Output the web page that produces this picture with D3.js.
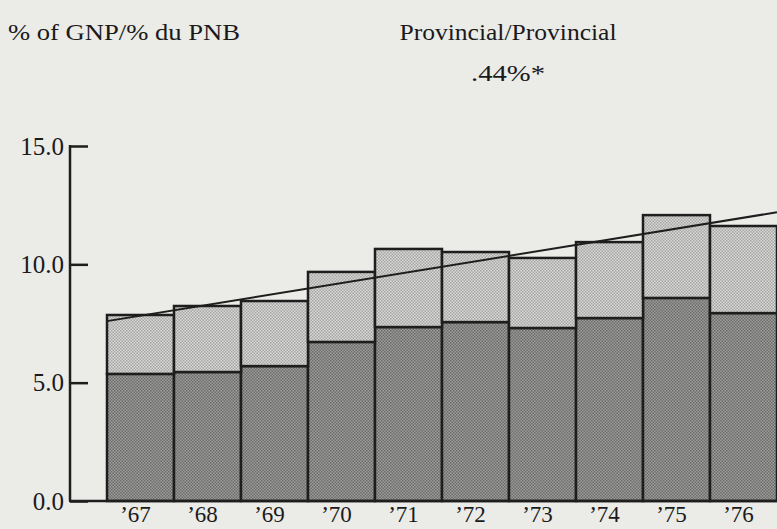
<!DOCTYPE html>
<html>
<head>
<meta charset="utf-8">
<script src="https://cdn.jsdelivr.net/npm/d3@7"></script>
<style>
  body { margin: 0; background: #ebebe8; }
  svg { display: block; }
  text { font-family: "Liberation Serif", "Times New Roman", Times, serif; fill: #1a1a1a; }
</style>
</head>
<body>
<div id="chart"></div>
<script>
// data
var years = [1967, 1968, 1969, 1970, 1971, 1972, 1973, 1974, 1975, 1976];
var yearLabels = ["’67", "’68", "’69", "’70", "’71", "’72", "’73", "’74", "’75", "’76"];
var lower = [5.37, 5.45, 5.70, 6.72, 7.35, 7.56, 7.31, 7.73, 8.58, 7.94];
var upper = [2.49, 2.79, 2.75, 2.96, 3.30, 2.96, 2.96, 3.21, 3.50, 3.68];
var trendX = [1967, 1977];
var trendY = [7.6, 12.2];
var yTicks = [0, 5, 10, 15];

var width = 777, height = 529;

var svg = d3.select("#chart").append("svg")
  .attr("width", width)
  .attr("height", height);

var defs = svg.append("defs");

function halftone(id, base, dot) {
  var p = defs.append("pattern")
    .attr("id", id)
    .attr("patternUnits", "userSpaceOnUse")
    .attr("width", 3)
    .attr("height", 3);
  p.append("rect").attr("width", 3).attr("height", 3).attr("fill", base);
  p.append("rect").attr("x", 0).attr("y", 0).attr("width", 1.5).attr("height", 1.5).attr("fill", dot);
  p.append("rect").attr("x", 1.5).attr("y", 1.5).attr("width", 1.5).attr("height", 1.5).attr("fill", dot);
}
halftone("lightDots", "#d8d8d6", "#a6a6a4");
halftone("darkDots", "#9c9c9a", "#6c6c6a");

var x = d3.scaleLinear()
  .domain([1967, 1977])
  .range([107, 777]);

var y = d3.scaleLinear()
  .domain([0, 15])
  .range([501, 146]);

var axisX = 70;

// titles
svg.append("text")
  .attr("x", 8).attr("y", 40)
  .attr("font-size", 24)
  .attr("textLength", 232)
  .attr("lengthAdjust", "spacingAndGlyphs")
  .text("% of GNP/% du PNB");

svg.append("text")
  .attr("x", 508).attr("y", 40)
  .attr("text-anchor", "middle")
  .attr("font-size", 24)
  .attr("textLength", 217)
  .attr("lengthAdjust", "spacingAndGlyphs")
  .text("Provincial/Provincial");

svg.append("text")
  .attr("x", 508).attr("y", 81)
  .attr("text-anchor", "middle")
  .attr("font-size", 24)
  .attr("textLength", 74)
  .attr("lengthAdjust", "spacingAndGlyphs")
  .text(".44%*");

// bars
var bars = svg.append("g");

bars.selectAll(".lower")
  .data(years)
  .enter().append("rect")
  .attr("class", "lower")
  .attr("x", function (d) { return x(d); })
  .attr("width", function (d) { return x(d + 1) - x(d); })
  .attr("y", function (d, i) { return y(lower[i]); })
  .attr("height", function (d, i) { return y(0) - y(lower[i]); })
  .attr("fill", "url(#darkDots)")
  .attr("stroke", "#1e1e1e")
  .attr("stroke-width", 2.5);

bars.selectAll(".upper")
  .data(years)
  .enter().append("rect")
  .attr("class", "upper")
  .attr("x", function (d) { return x(d); })
  .attr("width", function (d) { return x(d + 1) - x(d); })
  .attr("y", function (d, i) { return y(lower[i] + upper[i]); })
  .attr("height", function (d, i) { return y(lower[i]) - y(lower[i] + upper[i]); })
  .attr("fill", "url(#lightDots)")
  .attr("stroke", "#1e1e1e")
  .attr("stroke-width", 2.5);

// trend line
var trend = d3.line()
  .x(function (d) { return x(d[0]); })
  .y(function (d) { return y(d[1]); });

svg.append("path")
  .datum(d3.zip(trendX, trendY))
  .attr("d", trend)
  .attr("fill", "none")
  .attr("stroke", "#1e1e1e")
  .attr("stroke-width", 2);

// y axis, ticks pointing inward
var yAxis = d3.axisRight(y)
  .tickValues(yTicks)
  .tickSize(18)
  .tickFormat("");

var yg = svg.append("g")
  .attr("transform", "translate(" + axisX + ",0)")
  .call(yAxis);
yg.select(".domain").remove();
yg.selectAll(".tick line").attr("stroke", "#1e1e1e").attr("stroke-width", 2.5);

svg.append("line")
  .attr("x1", axisX).attr("x2", axisX)
  .attr("y1", y(15) - 1).attr("y2", y(0))
  .attr("stroke", "#1e1e1e")
  .attr("stroke-width", 2.5);

svg.selectAll(".ylabel")
  .data(yTicks)
  .enter().append("text")
  .attr("class", "ylabel")
  .attr("x", axisX - 6)
  .attr("y", function (d) { return y(d); })
  .attr("dy", "0.35em")
  .attr("text-anchor", "end")
  .attr("font-size", 25)
  .text(d3.format(".1f"));

// baseline
svg.append("line")
  .attr("x1", axisX - 1).attr("x2", width)
  .attr("y1", y(0)).attr("y2", y(0))
  .attr("stroke", "#1e1e1e")
  .attr("stroke-width", 2.5);

// year labels
svg.selectAll(".xlabel")
  .data(years)
  .enter().append("text")
  .attr("class", "xlabel")
  .attr("x", function (d) { return (x(d) + x(d + 1)) / 2 - 5; })
  .attr("y", 522)
  .attr("text-anchor", "middle")
  .attr("font-size", 23)
  .text(function (d, i) { return yearLabels[i]; });
</script>
</body>
</html>
